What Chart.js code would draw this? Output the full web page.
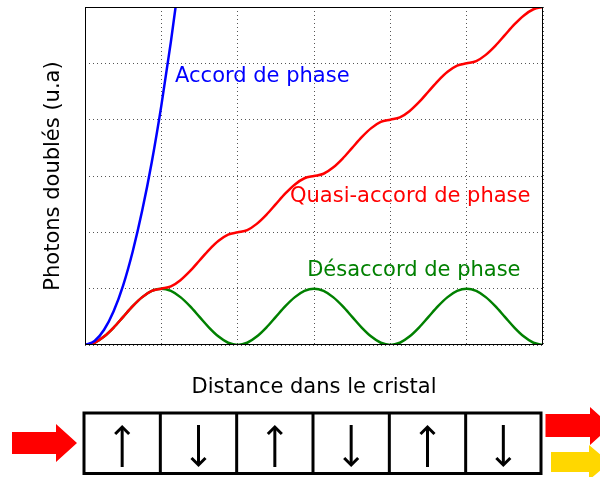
<!DOCTYPE html>
<html>
<head>
<meta charset="utf-8">
<script src="https://cdn.jsdelivr.net/npm/chart.js@4"></script>
<style>
  html, body { margin: 0; padding: 0; background: #fff; }
  #wrap { width: 600px; height: 477px; position: relative; }
</style>
</head>
<body>
<div id="wrap"><canvas id="shgChart"></canvas></div>
<script>
// distance along the crystal, in coherence lengths
const distance = [
  0, 0.125, 0.25, 0.375, 0.5, 0.625, 0.75, 0.875,
  1, 1.125, 1.25, 1.375, 1.5, 1.625, 1.75, 1.875,
  2, 2.125, 2.25, 2.375, 2.5, 2.625, 2.75, 2.875,
  3, 3.125, 3.25, 3.375, 3.5, 3.625, 3.75, 3.875,
  4, 4.125, 4.25, 4.375, 4.5, 4.625, 4.75, 4.875,
  5, 5.125, 5.25, 5.375, 5.5, 5.625, 5.75, 5.875,
  6
];

// phase matched: grows without bound (leaves the frame just past x = 1.2)
const accord = [0, 0.07, 0.27, 0.60, 1.06, 1.66, 2.39, 3.25, 4.25, 5.38, 6.64];

// quasi phase matched: steps up by one each coherence length
const quasiAccord = [
  0, 0.04, 0.15, 0.31, 0.50, 0.69, 0.85, 0.96,
  1, 1.04, 1.15, 1.31, 1.50, 1.69, 1.85, 1.96,
  2, 2.04, 2.15, 2.31, 2.50, 2.69, 2.85, 2.96,
  3, 3.04, 3.15, 3.31, 3.50, 3.69, 3.85, 3.96,
  4, 4.04, 4.15, 4.31, 4.50, 4.69, 4.85, 4.96,
  5, 5.04, 5.15, 5.31, 5.50, 5.69, 5.85, 5.96,
  6
];

// phase mismatched: oscillates between 0 and 1
const desaccord = [
  0, 0.04, 0.15, 0.31, 0.50, 0.69, 0.85, 0.96,
  1, 0.96, 0.85, 0.69, 0.50, 0.31, 0.15, 0.04,
  0, 0.04, 0.15, 0.31, 0.50, 0.69, 0.85, 0.96,
  1, 0.96, 0.85, 0.69, 0.50, 0.31, 0.15, 0.04,
  0, 0.04, 0.15, 0.31, 0.50, 0.69, 0.85, 0.96,
  1, 0.96, 0.85, 0.69, 0.50, 0.31, 0.15, 0.04,
  0
];

const seriesNames = ['Accord de phase', 'Quasi-accord de phase', 'Désaccord de phase'];
const seriesColors = ['#0000ff', '#ff0000', '#008000'];

// orientation of each ferroelectric domain (periodically poled crystal)
const domainPolarity = [1, -1, 1, -1, 1, -1];

const FONT = 'DejaVu Sans';

function toPoints(ys) {
  return ys.map((y, i) => ({ x: distance[i], y: y }));
}

// curve labels, drawn inside the plot
const curveLabels = {
  id: 'curveLabels',
  afterDatasetsDraw(chart) {
    const { ctx, scales: { x, y } } = chart;
    const anchors = [[1.18, 4.67], [2.686, 2.53], [2.91, 1.23]];
    ctx.save();
    ctx.font = '21px "' + FONT + '"';
    ctx.textBaseline = 'alphabetic';
    ctx.textAlign = 'left';
    anchors.forEach((a, i) => {
      ctx.fillStyle = seriesColors[i];
      ctx.fillText(seriesNames[i], x.getPixelForValue(a[0]), y.getPixelForValue(a[1]));
    });
    ctx.restore();
  }
};

function arrowShape(ctx, x0, x1, xh, xt, bodyTop, bodyBot, headTop, headBot, color) {
  const mid = (headTop + headBot) / 2;
  ctx.fillStyle = color;
  ctx.beginPath();
  ctx.moveTo(x0, bodyTop);
  ctx.lineTo(xh, bodyTop);
  ctx.lineTo(xh, headTop);
  ctx.lineTo(xt, mid);
  ctx.lineTo(xh, headBot);
  ctx.lineTo(xh, bodyBot);
  ctx.lineTo(x0, bodyBot);
  ctx.closePath();
  ctx.fill();
}

// frame around the plot, plus the poled crystal and beams under the axis title
const frameAndCrystal = {
  id: 'frameAndCrystal',
  afterDraw(chart) {
    const { ctx, chartArea: ca, scales: { x } } = chart;
    ctx.save();
    ctx.strokeStyle = '#000';
    ctx.lineWidth = 1;
    ctx.strokeRect(ca.left + 0.5, ca.top + 0.5, ca.right - ca.left - 1, ca.bottom - ca.top - 1);

    const top = 413, bottom = 473.5;
    const edges = domainPolarity.map((_, i) => x.getPixelForValue(i) - 1);
    edges.push(x.getPixelForValue(domainPolarity.length) - 2);

    ctx.lineWidth = 3;
    ctx.strokeRect(edges[0], top, edges[edges.length - 1] - edges[0], bottom - top);
    for (let i = 1; i < edges.length - 1; i++) {
      ctx.beginPath();
      ctx.moveTo(edges[i], top);
      ctx.lineTo(edges[i], bottom);
      ctx.stroke();
    }

    // domain orientation arrows
    ctx.lineWidth = 3;
    ctx.lineCap = 'butt';
    domainPolarity.forEach((p, i) => {
      const cx = (edges[i] + edges[i + 1]) / 2;
      const yHead = p > 0 ? 426 : 466;
      const yTail = p > 0 ? 467 : 425;
      const d = p > 0 ? 1 : -1;
      ctx.beginPath();
      ctx.moveTo(cx, yTail);
      ctx.lineTo(cx, yHead + d * 1);
      ctx.stroke();
      ctx.beginPath();
      ctx.moveTo(cx - 7, yHead + d * 8);
      ctx.lineTo(cx, yHead + d * 1);
      ctx.lineTo(cx + 7, yHead + d * 8);
      ctx.stroke();
    });

    // pump beam in, fundamental and second harmonic out
    arrowShape(ctx, 12, 56, 56, 77, 432, 454, 424, 462, '#ff0000');
    arrowShape(ctx, 545.5, 590, 590, 611, 414, 437, 407, 445, '#ff0000');
    arrowShape(ctx, 551, 590, 589, 610, 452, 472, 445, 480, '#ffd700');
    ctx.restore();
  }
};

const ctx = document.getElementById('shgChart').getContext('2d');
new Chart(ctx, {
  type: 'line',
  data: {
    datasets: [
      { label: seriesNames[0], data: toPoints(accord), borderColor: seriesColors[0] },
      { label: seriesNames[1], data: toPoints(quasiAccord), borderColor: seriesColors[1] },
      { label: seriesNames[2], data: toPoints(desaccord), borderColor: seriesColors[2] }
    ]
  },
  options: {
    responsive: true,
    maintainAspectRatio: false,
    animation: false,
    layout: { padding: { top: 7, right: 57, left: 0, bottom: 0 } },
    elements: {
      point: { radius: 0 },
      line: { borderWidth: 2.5, cubicInterpolationMode: 'monotone', fill: false }
    },
    plugins: {
      legend: { display: false },
      tooltip: { enabled: false }
    },
    scales: {
      x: {
        type: 'linear',
        min: 0,
        max: 6,
        ticks: { display: false, stepSize: 1 },
        grid: { color: '#555', drawTicks: false, lineWidth: 1 },
        border: { display: false, dash: [1, 3] },
        title: {
          display: true,
          text: 'Distance dans le cristal',
          color: '#000',
          font: { family: FONT, size: 21 },
          padding: { top: 0, bottom: 77 }
        },
        afterFit(scale) { scale.height = 132; }
      },
      y: {
        min: 0,
        max: 6,
        ticks: { display: false, stepSize: 1 },
        grid: { color: '#555', drawTicks: false, lineWidth: 1 },
        border: { display: false, dash: [1, 3] },
        title: {
          display: true,
          text: 'Photons doublés (u.a)',
          color: '#000',
          font: { family: FONT, size: 21 },
          padding: { top: 41, bottom: 0 }
        },
        afterFit(scale) { scale.width = 85; }
      }
    }
  },
  plugins: [curveLabels, frameAndCrystal]
});
</script>
</body>
</html>
